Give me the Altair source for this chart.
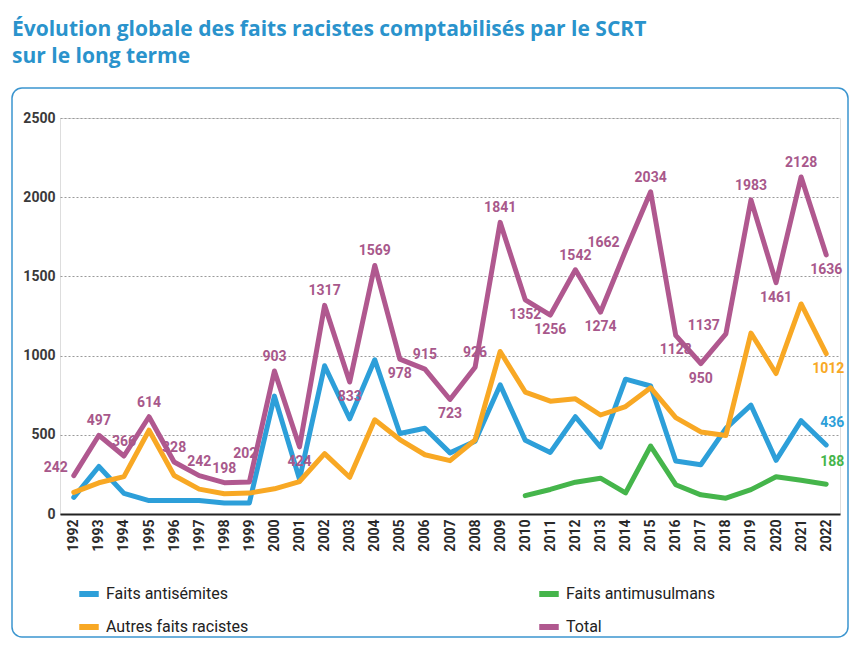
import altair as alt
import pandas as pd

years = list(range(1992, 2023))
antisemites = [105, 300, 130, 85, 85, 85, 70, 70, 744, 219, 936, 601, 974, 508, 541, 386,
               459, 815, 466, 389, 614, 423, 851, 808, 335, 311, 541, 687, 339, 589, 436]
autres = [137, 197, 236, 529, 243, 157, 128, 132, 159, 205, 381, 232, 595, 470, 374, 337,
          467, 1026, 770, 712, 727, 625, 678, 797, 608, 518, 496, 1142, 887, 1326, 1012]
antimusulmans = [None] * 18 + [116, 155, 201, 226, 133, 429, 185, 121, 100, 154, 235, 213, 188]
total = [242, 497, 366, 614, 328, 242, 198, 202, 903, 424, 1317, 833, 1569, 978, 915, 723,
         926, 1841, 1352, 1256, 1542, 1274, 1662, 2034, 1128, 950, 1137, 1983, 1461, 2128, 1636]

series_names = ["Faits antisémites", "Faits antimusulmans", "Autres faits racistes", "Total"]
series_colors = ["#2d9fd9", "#45b54b", "#f8a824", "#b0588f"]

# label placement for the "Total" values (styling choice)
below_years = [2001, 2003, 2005, 2007, 2010, 2011, 2013, 2016, 2017, 2020, 2022]
left_years = [1992, 2014, 2018]
high_years = [1999]

rows = []
for name, vals in zip(series_names, [antisemites, antimusulmans, autres, total]):
    for y, v in zip(years, vals):
        if v is not None:
            rows.append({"year": str(y), "serie": name, "value": v})
df = pd.DataFrame(rows)

tot = pd.DataFrame({"year": [str(y) for y in years], "value": total})
tot["pos"] = ["below" if y in below_years else ("left" if y in left_years else
              ("high" if y in high_years else "above")) for y in years]

FONT = "Roboto"

x_enc = alt.X("year:O", scale=alt.Scale(type="point", padding=0.55),
              axis=alt.Axis(title=None, labelAngle=270, labelFontSize=14, labelFontWeight="bold",
                            labelColor="#2a2a2a", labelFont=FONT, ticks=False, grid=False,
                            domainColor="#222222", domainWidth=2, labelPadding=5))
y_enc = alt.Y("value:Q", scale=alt.Scale(domain=[0, 2500], nice=False),
              axis=alt.Axis(title=None, values=[0, 500, 1000, 1500, 2000, 2500], ticks=False,
                            format="d", domain=False, labelFontSize=14, labelFontWeight="bold",
                            labelColor="#3a3a3a", labelFont=FONT, labelPadding=5,
                            gridColor="#9a9a9a", gridDash=[2, 2], gridWidth=1))

color_enc = alt.Color("serie:N", scale=alt.Scale(domain=series_names, range=series_colors),
                      legend=alt.Legend(title=None, orient="none", legendX=16, legendY=463,
                                        columns=2, direction="horizontal", columnPadding=278,
                                        rowPadding=8, symbolType="stroke", symbolStrokeWidth=6,
                                        symbolSize=380, labelFontSize=16, labelFont=FONT,
                                        labelColor="#222222", labelOffset=4))

box = alt.Chart(pd.DataFrame({"a": [0]})).mark_rect(
    fill=None, stroke="#3b95cf", strokeWidth=1.5, cornerRadius=10
).encode(x=alt.value(-48), x2=alt.value(788), y=alt.value(-30), y2=alt.value(519))

lines = alt.Chart(df).mark_line(strokeWidth=5, strokeCap="round", strokeJoin="round").encode(
    x=x_enc, y=y_enc, color=color_enc
)

txt_style = dict(font=FONT, fontSize=14, fontWeight="bold", color="#a8588b")
base_t = alt.Chart(tot).encode(x="year:O", y="value:Q", text="value:Q")
lab_above = base_t.transform_filter(alt.datum.pos == "above").mark_text(dy=-14, **txt_style)
lab_high = base_t.transform_filter(alt.datum.pos == "high").mark_text(dy=-28, dx=-4, **txt_style)
lab_below = base_t.transform_filter(alt.datum.pos == "below").mark_text(dy=15, **txt_style)
lab_left = base_t.transform_filter(alt.datum.pos == "left").mark_text(dx=-6, dy=-8, align="right", **txt_style)

end = alt.Chart(df).transform_filter((alt.datum.year == "2022") & (alt.datum.serie != "Total")).encode(
    x="year:O", y="value:Q", text="value:Q",
    color=alt.Color("serie:N", scale=alt.Scale(domain=series_names, range=series_colors), legend=None)
)
end_below = end.transform_filter(alt.datum.serie == "Autres faits racistes").mark_text(
    font=FONT, fontSize=14, fontWeight="bold", dy=15, dx=2)
end_above = end.transform_filter(alt.datum.serie != "Autres faits racistes").mark_text(
    font=FONT, fontSize=14, fontWeight="bold", dy=-22, dx=6)

chart = alt.layer(box, lines, lab_above, lab_high, lab_below, lab_left, end_below, end_above).properties(
    width=780, height=396,
    autosize=alt.AutoSizeParams(type="none"),
    padding={"left": 52, "top": 110, "right": 10, "bottom": 124},
    title=alt.TitleParams(
        text=["Évolution globale des faits racistes comptabilisés par le SCRT", "sur le long terme"],
        anchor="start", frame="group", dx=-48, dy=30, offset=50, font="Open Sans", fontSize=21,
        fontWeight="bold", color="#2a93cc", lineHeight=27),
).configure_view(stroke=None).configure(background="white")

chart.save("out.html", embed_options={"renderer": "svg", "actions": False})
